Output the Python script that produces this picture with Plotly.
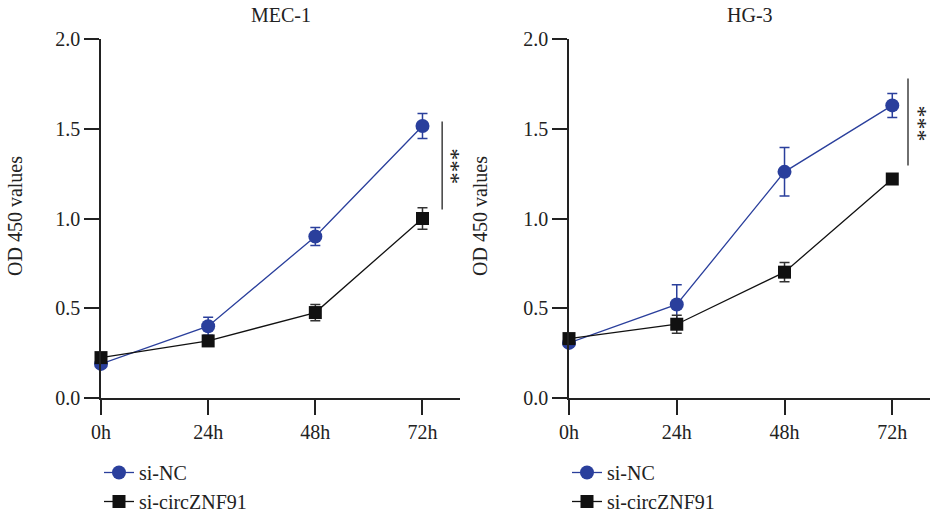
import plotly.graph_objects as go

hours = [0, 24, 48, 72]
hour_labels = ["0h", "24h", "48h", "72h"]
y_ticks = [0.0, 0.5, 1.0, 1.5, 2.0]

mec_nc = [0.19, 0.40, 0.90, 1.515]
mec_nc_err = [0.02, 0.05, 0.05, 0.07]
mec_si = [0.225, 0.318, 0.476, 1.00]
mec_si_err = [0.02, 0.02, 0.045, 0.06]

hg_nc = [0.307, 0.521, 1.26, 1.63]
hg_nc_err = [0.02, 0.11, 0.135, 0.067]
hg_si = [0.331, 0.411, 0.701, 1.22]
hg_si_err = [0.02, 0.05, 0.054, 0.02]

series_names = ["si-NC", "si-circZNF91"]
panel_titles = ["MEC-1", "HG-3"]

BLUE = "#2a3f9c"
BLACK = "#111111"
FONT = "Liberation Serif"
FS = 20

fig = go.Figure()

panels = [
    ("x", "y", "legend", mec_nc, mec_nc_err, mec_si, mec_si_err),
    ("x2", "y2", "legend2", hg_nc, hg_nc_err, hg_si, hg_si_err),
]
for xa, ya, lg, nc, nce, si, sie in panels:
    fig.add_trace(go.Scatter(
        x=hours, y=nc, xaxis=xa, yaxis=ya, legend=lg, name=series_names[0],
        mode="lines+markers", cliponaxis=False,
        line=dict(color=BLUE, width=1.3),
        marker=dict(symbol="circle", size=14, color=BLUE),
        error_y=dict(type="data", array=nce, color=BLUE, thickness=1.5, width=5),
    ))
    fig.add_trace(go.Scatter(
        x=hours, y=si, xaxis=xa, yaxis=ya, legend=lg, name=series_names[1],
        mode="lines+markers", cliponaxis=False,
        line=dict(color=BLACK, width=1.3),
        marker=dict(symbol="square", size=13, color=BLACK),
        error_y=dict(type="data", array=sie, color="#333333", thickness=1.5, width=5),
    ))

W, H = 935, 513
dom_y = [(513 - 398) / H, (513 - 39) / H]
dom_x1 = [101 / W, 460 / W]
dom_x2 = [569 / W, 930 / W]

axis_common = dict(
    showgrid=False, zeroline=False, showline=True, linecolor="#222222", linewidth=1.5,
    ticks="outside", ticklen=15, tickwidth=1.5, tickcolor="#222222", automargin=False,
    tickfont=dict(family=FONT, size=FS, color="#222222"),
)
xaxis_common = dict(axis_common, range=[0, 80.4], tickvals=hours, ticktext=hour_labels)
yaxis_common = dict(axis_common, range=[0, 2], tickvals=y_ticks, tickformat=".1f")

fig.update_layout(
    width=W, height=H,
    margin=dict(l=0, r=0, t=0, b=0, autoexpand=False),
    paper_bgcolor="white", plot_bgcolor="white",
    font=dict(family=FONT, size=FS, color="#222222"),
    xaxis=dict(xaxis_common, domain=dom_x1, anchor="y"),
    yaxis=dict(yaxis_common, domain=dom_y, anchor="x"),
    xaxis2=dict(xaxis_common, domain=dom_x2, anchor="y2"),
    yaxis2=dict(yaxis_common, domain=dom_y, anchor="x2"),
    legend=dict(x=99 / W, y=(513 - 453) / H, xanchor="left", yanchor="top",
                bgcolor="rgba(0,0,0,0)", font=dict(family=FONT, size=FS)),
    legend2=dict(x=567 / W, y=(513 - 453) / H, xanchor="left", yanchor="top",
                 bgcolor="rgba(0,0,0,0)", font=dict(family=FONT, size=FS)),
    showlegend=True,
)

# subplot titles and y titles
for cx, title, ytx in [((101 + 460) / 2 / W, panel_titles[0], 15 / W),
                       ((569 + 930) / 2 / W, panel_titles[1], 480 / W)]:
    fig.add_annotation(x=cx, y=(513 - 15) / H, xref="paper", yref="paper",
                       text=title, showarrow=False, font=dict(family=FONT, size=FS),
                       xanchor="center", yanchor="middle")
    fig.add_annotation(x=ytx, y=(513 - 216) / H, xref="paper", yref="paper",
                       text="OD 450 values", textangle=-90, showarrow=False,
                       font=dict(family=FONT, size=FS), xanchor="center", yanchor="middle")

# significance markers
for xa, ya, xl, y0, y1, xs, ys in [("x", "y", 76.4, 1.05, 1.54, 78.4, 1.29),
                                    ("x2", "y2", 75.5, 1.295, 1.78, 77.9, 1.53)]:
    fig.add_shape(type="line", xref=xa, yref=ya, x0=xl, x1=xl, y0=y0, y1=y1,
                  line=dict(color="#222222", width=1.3))
    fig.add_annotation(x=xs, y=ys, xref=xa, yref=ya, text="***", textangle=90,
                       showarrow=False, font=dict(family=FONT, size=24),
                       xanchor="center", yanchor="middle")

fig.write_html("out.html", post_script="document.body.style.margin='0px';",
               config={"displayModeBar": False})
